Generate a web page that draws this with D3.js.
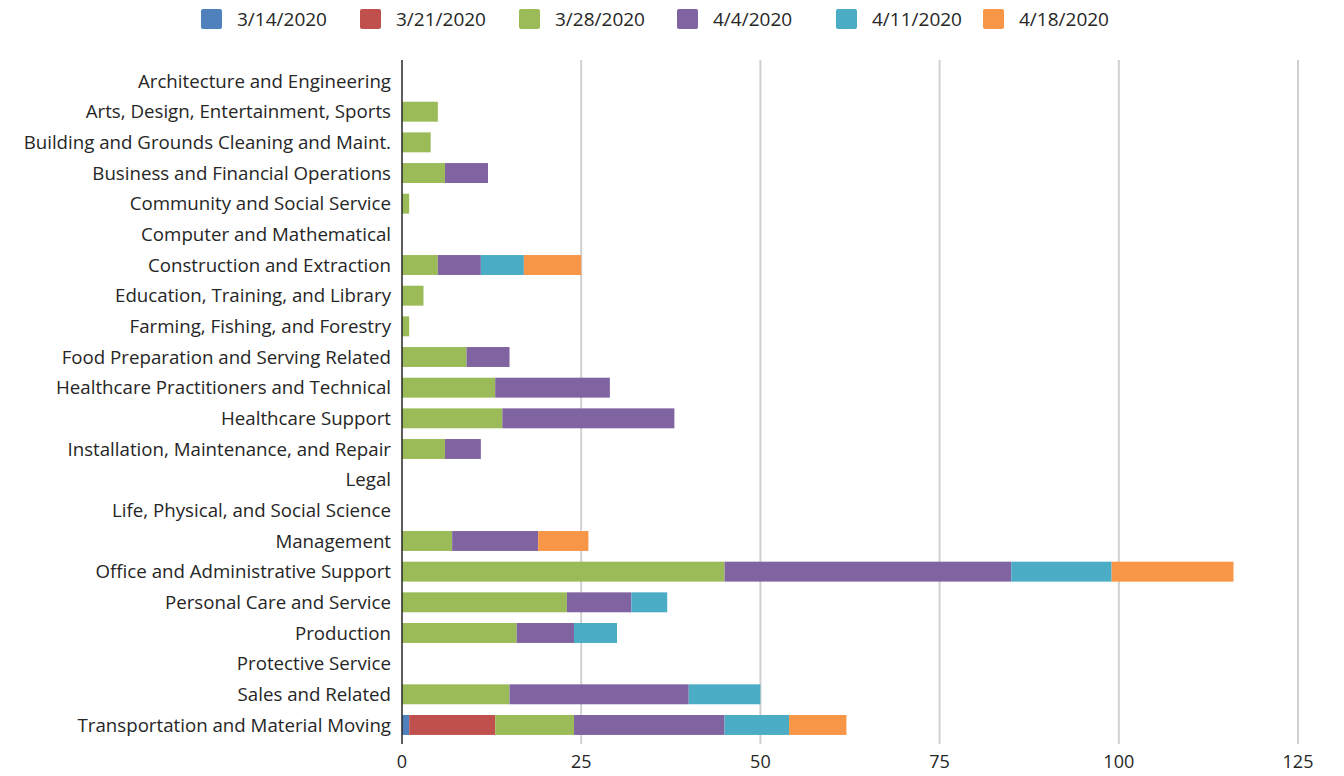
<!DOCTYPE html>
<html>
<head>
<meta charset="utf-8">
<script src="https://cdn.jsdelivr.net/npm/d3@7"></script>
<style>
  body { margin: 0; background: #fff; }
  text { font-family: "Open Sans", Lato, sans-serif; fill: #262626; }
</style>
</head>
<body>
<svg id="chart" width="1344" height="776"></svg>
<script>
// categories top to bottom
const categories = [
  "Architecture and Engineering",
  "Arts, Design, Entertainment, Sports",
  "Building and Grounds Cleaning and Maint.",
  "Business and Financial Operations",
  "Community and Social Service",
  "Computer and Mathematical",
  "Construction and Extraction",
  "Education, Training, and Library",
  "Farming, Fishing, and Forestry",
  "Food Preparation and Serving Related",
  "Healthcare Practitioners and Technical",
  "Healthcare Support",
  "Installation, Maintenance, and Repair",
  "Legal",
  "Life, Physical, and Social Science",
  "Management",
  "Office and Administrative Support",
  "Personal Care and Service",
  "Production",
  "Protective Service",
  "Sales and Related",
  "Transportation and Material Moving"
];

const weeks = ["3/14/2020", "3/21/2020", "3/28/2020", "4/4/2020", "4/11/2020", "4/18/2020"];
const colors = ["#4F81BD", "#C0504D", "#9BBB59", "#8064A2", "#4BACC6", "#F79646"];

// one array per week, same order as categories
const w0314 = [0,0,0,0,0,0,0,0,0,0,0,0,0,0,0,0,0,0,0,0,0,1];
const w0321 = [0,0,0,0,0,0,0,0,0,0,0,0,0,0,0,0,0,0,0,0,0,12];
const w0328 = [0,5,4,6,1,0,5,3,1,9,13,14,6,0,0,7,45,23,16,0,15,11];
const w0404 = [0,0,0,6,0,0,6,0,0,6,16,24,5,0,0,12,40,9,8,0,25,21];
const w0411 = [0,0,0,0,0,0,6,0,0,0,0,0,0,0,0,0,14,5,6,0,10,9];
const w0418 = [0,0,0,0,0,0,8,0,0,0,0,0,0,0,0,7,17,0,0,0,0,8];
const xTicks = [0, 25, 50, 75, 100, 125];

const series = [w0314, w0321, w0328, w0404, w0411, w0418];

const svg = d3.select("#chart");

const rows = categories.map((c, i) => {
  const r = { cat: c };
  weeks.forEach((w, k) => r[w] = series[k][i]);
  return r;
});

const stacked = d3.stack().keys(weeks)(rows);

const x = d3.scaleLinear().domain([0, 125]).range([402, 1298]);
const y = d3.scaleBand().domain(categories).range([65.7, 740.3])
  .paddingInner(0.35).paddingOuter(0.175);

// gridlines
svg.append("g")
  .selectAll("line")
  .data(xTicks.slice(1))
  .join("line")
  .attr("x1", d => x(d)).attr("x2", d => x(d))
  .attr("y1", 60).attr("y2", 744)
  .attr("stroke", "#d0d0d0")
  .attr("stroke-width", 2);

// bars
svg.append("g")
  .selectAll("g")
  .data(stacked)
  .join("g")
  .attr("fill", (d, i) => colors[i])
  .selectAll("rect")
  .data(d => d.filter(s => s[1] - s[0] > 0))
  .join("rect")
  .attr("x", d => x(d[0]))
  .attr("width", d => x(d[1]) - x(d[0]))
  .attr("y", d => y(d.data.cat))
  .attr("height", y.bandwidth());

// category axis line
svg.append("line")
  .attr("x1", x(0)).attr("x2", x(0))
  .attr("y1", 60).attr("y2", 744)
  .attr("stroke", "#262626")
  .attr("stroke-width", 1.5);

// category labels
svg.append("g")
  .selectAll("text")
  .data(categories)
  .join("text")
  .attr("x", 391)
  .attr("y", d => y(d) + y.bandwidth() / 2)
  .attr("dy", "0.35em")
  .attr("text-anchor", "end")
  .style("font-size", "18.7px")
  .text(d => d);

// x tick labels
svg.append("g")
  .selectAll("text")
  .data(xTicks)
  .join("text")
  .attr("x", d => x(d))
  .attr("y", 762)
  .attr("dy", "0.35em")
  .attr("text-anchor", "middle")
  .style("font-size", "18px")
  .text(d => d);

// legend
const legendX = [201, 360, 519, 677, 836, 983];
const legend = svg.append("g")
  .selectAll("g")
  .data(weeks)
  .join("g")
  .attr("transform", (d, i) => `translate(${legendX[i]},9)`);

legend.append("rect")
  .attr("width", 21).attr("height", 20)
  .attr("rx", 2)
  .attr("fill", (d, i) => colors[i]);

legend.append("text")
  .attr("x", 36)
  .attr("y", 10)
  .attr("dy", "0.35em")
  .style("font-size", "19px")
  .text(d => d);
</script>
</body>
</html>
